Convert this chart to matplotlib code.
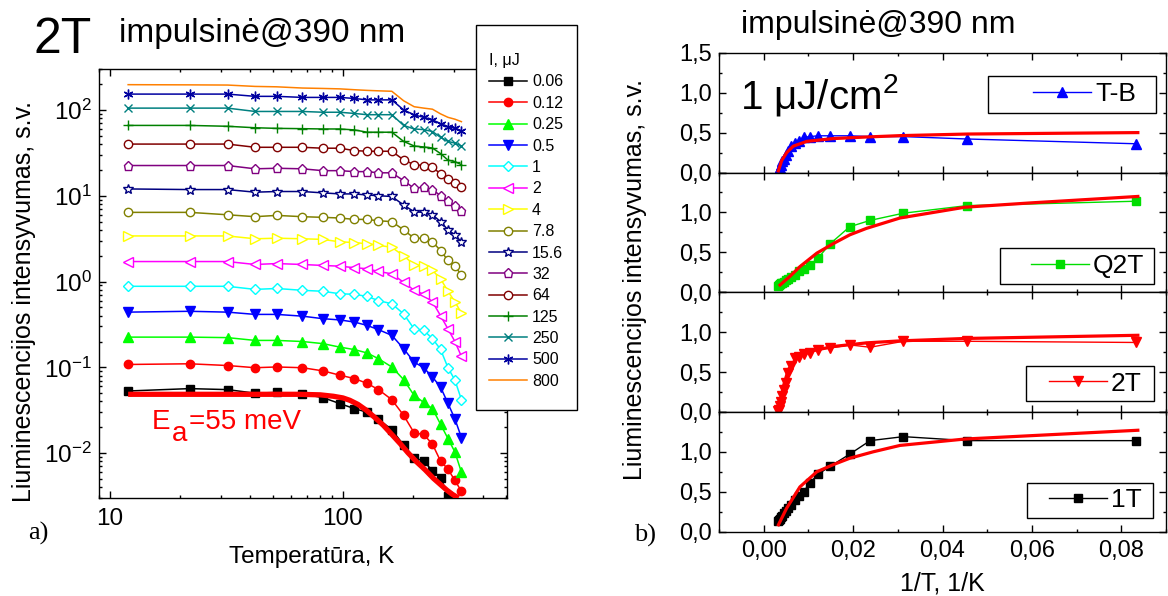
import numpy as np
import matplotlib
matplotlib.use('Agg')
import matplotlib.pyplot as plt
import matplotlib.ticker as mticker
from matplotlib.patches import Rectangle

plt.rcParams['font.family'] = ['Liberation Sans', 'DejaVu Sans']
plt.rcParams['mathtext.fontset'] = 'custom'
plt.rcParams['mathtext.rm'] = 'Liberation Sans'
plt.rcParams['mathtext.it'] = 'Liberation Sans:italic'
plt.rcParams['mathtext.default'] = 'regular'

nan = np.nan
# ---------------- data: panel a ----------------
T_K = [12, 22, 32, 42, 52, 67, 82, 97, 112, 127, 142, 162, 182, 202, 222, 242, 262, 282, 302, 322]
I_006 = [0.053, 0.0565, 0.055, 0.050, 0.051, 0.049, 0.0444, 0.0378, 0.033, 0.030, 0.0248, 0.0188, 0.0124, 0.0088, 0.0081, 0.0062, 0.0052, 0.0032, nan, nan]
I_012 = [0.108, 0.11, 0.105, 0.099, 0.101, 0.099, 0.091, 0.081, 0.074, 0.065, 0.055, 0.042, 0.0276, 0.0172, 0.0165, 0.0127, 0.0081, 0.0065, 0.0048, 0.0036]
I_025 = [0.225, 0.225, 0.222, 0.206, 0.206, 0.200, 0.189, 0.172, 0.161, 0.147, 0.126, 0.101, 0.072, 0.047, 0.039, 0.033, 0.0217, 0.0148, 0.0103, 0.006]
I_05 = [0.44, 0.45, 0.44, 0.414, 0.414, 0.395, 0.369, 0.357, 0.337, 0.308, 0.275, 0.236, 0.165, 0.115, 0.099, 0.077, 0.059, 0.038, 0.025, 0.0152]
I_1 = [0.88, 0.88, 0.88, 0.81, 0.83, 0.79, 0.77, 0.72, 0.71, 0.67, 0.60, 0.55, 0.42, 0.28, 0.27, 0.216, 0.162, 0.099, 0.071, 0.042]
I_2 = [1.71, 1.71, 1.71, 1.58, 1.62, 1.58, 1.54, 1.51, 1.45, 1.41, 1.31, 1.23, 0.98, 0.79, 0.71, 0.58, 0.40, 0.28, 0.20, 0.134]
I_4 = [3.4, 3.4, 3.4, 3.15, 3.2, 3.15, 3.1, 2.9, 2.85, 2.75, 2.65, 2.5, 2.0, 1.57, 1.5, 1.35, 1.08, 0.77, 0.58, 0.43]
I_78 = [6.4, 6.4, 6.0, 5.7, 5.9, 5.7, 5.6, 5.5, 5.3, 5.3, 5.1, 5.0, 4.0, 3.2, 3.2, 2.9, 2.3, 1.76, 1.5, 1.2]
I_156 = [12.0, 11.8, 11.8, 11.0, 11.2, 11.2, 10.8, 10.5, 10.5, 10.2, 10.0, 9.8, 7.8, 6.5, 6.4, 6.0, 5.0, 4.0, 3.5, 2.9]
I_32 = [22.5, 22.5, 22.5, 20.6, 20.9, 20.6, 19.6, 19.6, 19.1, 19.1, 18.5, 18.5, 15.0, 12.2, 12.6, 11.8, 10.0, 8.8, 7.5, 6.6]
I_64 = [40, 40, 40, 36.7, 36.7, 36.7, 35.8, 35.8, 33.6, 33.0, 33.0, 33.0, 26.2, 23.0, 22.5, 21.5, 18.0, 15.7, 14.1, 12.6]
I_125 = [66, 66, 64.5, 62, 61, 60.5, 60, 60, 58.5, 55, 55, 55, 43, 38, 37, 36, 31, 26, 25, 23]
I_250 = [105, 105, 105, 96, 96, 96, 94, 94, 91, 88, 88, 88, 66, 60, 59, 56, 48, 43, 41, 38]
I_500 = [153, 153, 153, 144, 144, 140, 140, 140, 136, 131, 131, 131, 100, 87.5, 82, 77, 68.7, 64, 61, 57.4]
I_800 = [197, 196, 195, 188, 186, 180, 178, 176, 172, 169, 167, 165, 128, 109, 105, 102, 90, 82, 78, 73]
LEGEND_LABELS = ['0.06', '0.12', '0.25', '0.5', '1', '2', '4', '7.8', '15.6', '32', '64', '125', '250', '500', '800']

FIT_T = [12, 40, 65, 80, 91, 100, 107, 116, 126, 137, 149, 162, 176, 190, 207, 225, 244, 279, 295, 313]
FIT_I = [0.0485, 0.0485, 0.0485, 0.0478, 0.046, 0.044, 0.0413, 0.037, 0.0316, 0.026, 0.0211, 0.0165,
         0.0129, 0.0101, 0.0079, 0.0064, 0.0051, 0.0037, 0.0033, 0.003]

# ---------------- data: panel b ----------------
TB = [0.36, 0.42, 0.45, 0.45, 0.46, 0.46, 0.46, 0.45, 0.44, 0.40, 0.37, 0.33, 0.27, 0.22, 0.17, 0.14, 0.10, 0.06, 0.03, 0.01]
Q2T = [1.14, 1.085, 0.99, 0.90, 0.82, 0.61, 0.43, 0.34, 0.29, 0.26, 0.22, 0.19, 0.17, 0.15, 0.13, 0.12, 0.11, 0.10, 0.09, 0.08]
T2 = [0.87, 0.885, 0.885, 0.81, 0.84, 0.80, 0.78, 0.74, 0.72, 0.69, 0.67, 0.57, 0.49, 0.36, 0.28, 0.20, 0.13, 0.07, 0.03, 0.01]
T1 = [1.14, 1.14, 1.19, 1.14, 0.97, 0.82, 0.72, 0.61, 0.50, 0.44, 0.40, 0.33, 0.30, 0.26, 0.23, 0.20, 0.18, 0.16, 0.14, 0.13]

FIT_TB_X = [0.00327, 0.00403, 0.00515, 0.00662, 0.00962, 0.0155, 0.023, 0.0305, 0.0456, 0.0837]
FIT_TB_Y = [0.02, 0.15, 0.25, 0.33, 0.39, 0.425, 0.445, 0.462, 0.482, 0.50]
FIT_Q2T_X = [0.00365, 0.0059, 0.0081, 0.0119, 0.0156, 0.0193, 0.023, 0.0305, 0.045, 0.06, 0.0837]
FIT_Q2T_Y = [0.09, 0.2, 0.32, 0.49, 0.61, 0.72, 0.80, 0.93, 1.065, 1.12, 1.2]
FIT_2T_X = [0.0033, 0.0044, 0.0055, 0.0074, 0.0104, 0.0156, 0.023, 0.0305, 0.045, 0.0837]
FIT_2T_Y = [0.03, 0.32, 0.53, 0.68, 0.76, 0.82, 0.865, 0.89, 0.92, 0.96]
FIT_1T_X = [0.0033, 0.0051, 0.0081, 0.0119, 0.0156, 0.0193, 0.0245, 0.0305, 0.045, 0.0837]
FIT_1T_Y = [0.085, 0.29, 0.56, 0.75, 0.84, 0.92, 1.0, 1.08, 1.16, 1.27]

# ---------------- figure ----------------
W, H = 1168, 596
fig = plt.figure(figsize=(W / 100, H / 100), dpi=100)


def fx(px):
    return px / W


def fy(py):
    return 1 - py / H


# ---------- panel a ----------
ax = fig.add_axes([fx(99), fy(498), fx(507) - fx(99), fy(69) - fy(498)])
ax.set_xscale('log')
ax.set_yscale('log')

series = [I_006, I_012, I_025, I_05, I_1, I_2, I_4, I_78, I_156, I_32, I_64, I_125, I_250, I_500, I_800]
colors = ['#000000', '#FF0000', '#00FF00', '#0000FF', '#00FFFF', '#FF00FF', '#FFFF00', '#808000',
          '#000080', '#800080', '#800000', '#008000', '#008080', '#0000A0', '#FF8000']
markers = ['s', 'o', '^', 'v', 'D', '<', '>', 'o', '*', 'p', 'o', '+', 'x', (6, 2, 0), None]
filled = [True, True, True, True, False, False, False, False, False, False, False, True, True, True, True]
msizes = [5.5, 6, 6.5, 6.5, 5.5, 6.5, 6.5, 6, 7.5, 6.5, 6, 7, 6, 7, 0]

handles = []
for ys, c, m, f, ms in zip(series, colors, markers, filled, msizes):
    h, = ax.plot(T_K, ys, color=c, lw=1.1, marker=m, ms=ms,
                 mfc=(c if f else 'white'), mec=c, mew=1.0, zorder=2)
    handles.append(h)

ax.plot(FIT_T, FIT_I, color='#FF0000', lw=3.8, zorder=3, solid_capstyle='butt')

ax.set_xlim(9, 505)
ax.set_ylim(0.003, 300)
ax.xaxis.set_major_locator(mticker.LogLocator(base=10))
ax.xaxis.set_minor_locator(mticker.LogLocator(base=10, subs=np.arange(2, 10)))
ax.xaxis.set_major_formatter(mticker.FuncFormatter(lambda v, p: f'{v:g}'))
ax.xaxis.set_minor_formatter(mticker.NullFormatter())
ax.yaxis.set_major_locator(mticker.LogLocator(base=10))
ax.yaxis.set_minor_locator(mticker.LogLocator(base=10, subs=np.arange(2, 10)))
ax.yaxis.set_minor_formatter(mticker.NullFormatter())
ax.tick_params(which='both', direction='in', top=True, right=True, width=1.0, labelsize=17.5)
ax.tick_params(which='major', length=5)
ax.tick_params(which='minor', length=2.5)
ax.tick_params(axis='y', pad=5)
ax.tick_params(axis='x', pad=7)
for s in ax.spines.values():
    s.set_linewidth(1.0)

# legend box for panel a
fig.add_artist(Rectangle((fx(476), fy(410)), fx(577) - fx(476), fy(25) - fy(410),
                         transform=fig.transFigure, fc='white', ec='black', lw=1.0, zorder=3))
leg = fig.legend(handles, LEGEND_LABELS, loc='upper left', bbox_to_anchor=(fx(489), fy(53)),
                 bbox_transform=fig.transFigure, frameon=False, title='I, μJ', alignment='left',
                 fontsize=11.5, title_fontsize=11.5, handlelength=2.4, handletextpad=0.3,
                 labelspacing=0.40, borderpad=0, borderaxespad=0)
leg.set_zorder(5)

fig.text(fx(33), fy(53), '2T', fontsize=36, va='baseline', ha='left')
fig.text(fx(119), fy(42), 'impulsinė@390 nm', fontsize=24, va='baseline', ha='left')
fig.text(fx(24), fy(302), 'Liuminescencijos intensyvumas, s.v.', rotation=90,
         fontsize=18, ha='center', va='center')
fig.text(fx(312), fy(563), 'Temperatūra, K', fontsize=17.5, ha='center', va='baseline')
# activation energy label: E with a large subscript a
fig.text(fx(152), fy(429), 'E', fontsize=20, color='#FF0000', ha='left', va='baseline')
fig.text(fx(172), fy(441), 'a', fontsize=20, color='#FF0000', ha='left', va='baseline')
fig.text(fx(189), fy(429), '=55 meV', fontsize=20, color='#FF0000', ha='left', va='baseline')
fig.text(fx(28), fy(533), 'a)', family='Liberation Serif', fontsize=19, ha='left', va='center')

# ---------- panel b ----------
INV_T = [1.0 / t for t in T_K]
panel_data = [TB, Q2T, T2, T1]
panel_fit = [(FIT_TB_X, FIT_TB_Y), (FIT_Q2T_X, FIT_Q2T_Y), (FIT_2T_X, FIT_2T_Y), (FIT_1T_X, FIT_1T_Y)]
panel_names = ['T-B', 'Q2T', '2T', '1T']
panel_colors = ['#0000FF', '#00DD00', '#FF0000', '#000000']
panel_markers = ['^', 's', 'v', 's']
panel_ms = [7, 6, 7, 6]
# legend box geometry (axes fraction): x0, x1, y0, y1, handle start x, centre y
panel_box = [(0.602, 0.978, 0.498, 0.806, 0.7025, 0.652),
             (0.6286, 0.9732, 0.069, 0.370, 0.698, 0.22),
             (0.686, 0.973, 0.088, 0.386, 0.738, 0.237),
             (0.6886, 0.971, 0.114, 0.410, 0.738, 0.262)]

top0 = 52.8
ph = 119.7
for i in range(4):
    top = top0 + i * ph
    axb = fig.add_axes([fx(719), fy(top + ph), fx(1166) - fx(719), ph / H])
    h, = axb.plot(INV_T, panel_data[i], color=panel_colors[i], lw=1.0, marker=panel_markers[i],
                  ms=panel_ms[i], mfc=panel_colors[i], mec=panel_colors[i], zorder=2)
    axb.plot(panel_fit[i][0], panel_fit[i][1], color='#FF0000', lw=2.3, zorder=3)
    axb.set_xlim(-0.01, 0.09)
    axb.set_ylim(0, 1.5)
    axb.xaxis.set_major_locator(mticker.MultipleLocator(0.02))
    axb.xaxis.set_minor_locator(mticker.MultipleLocator(0.01))
    axb.yaxis.set_major_locator(mticker.MultipleLocator(0.5))
    axb.yaxis.set_minor_locator(mticker.MultipleLocator(0.25))
    axb.xaxis.set_major_formatter(mticker.FuncFormatter(lambda v, p: f'{v:.2f}'.replace('.', ',')))
    if i == 0:
        axb.yaxis.set_major_formatter(mticker.FuncFormatter(lambda v, p: f'{v:.1f}'.replace('.', ',')))
    else:
        axb.yaxis.set_major_formatter(mticker.FuncFormatter(
            lambda v, p: '' if v > 1.4 else f'{v:.1f}'.replace('.', ',')))
    axb.tick_params(which='both', direction='in', top=True, right=True, width=1.0, labelsize=17)
    axb.tick_params(which='major', length=5)
    axb.tick_params(which='minor', length=2.5)
    axb.tick_params(axis='y', pad=5)
    axb.tick_params(axis='x', pad=6, labelbottom=(i == 3))
    for s in axb.spines.values():
        s.set_linewidth(1.0)
    x0, x1, y0, y1, hx, cy = panel_box[i]
    axb.add_patch(Rectangle((x0, y0), x1 - x0, y1 - y0, transform=axb.transAxes,
                            fc='white', ec='black', lw=1.0, zorder=4, clip_on=False))
    lg = axb.legend([h], [panel_names[i]], loc='center left', bbox_to_anchor=(hx, cy),
                    bbox_transform=axb.transAxes, frameon=False, borderpad=0, borderaxespad=0,
                    handlelength=2.2, handletextpad=0.15, fontsize=19)
    lg.set_zorder(5)

fig.text(fx(741), fy(33), 'impulsinė@390 nm', fontsize=23, va='baseline', ha='left')
fig.text(fx(740), fy(108), '1 μJ/cm$^{2}$', fontsize=29, va='baseline', ha='left')
fig.text(fx(635), fy(280), 'Liuminescencijos intensyvumas, s.v.', rotation=90,
         fontsize=18, ha='center', va='center')
fig.text(fx(942), fy(590), '1/T, 1/K', fontsize=18, ha='center', va='baseline')
fig.text(fx(634), fy(535), 'b)', family='Liberation Serif', fontsize=19, ha='left', va='center')

fig.savefig('out.png', dpi=100)
